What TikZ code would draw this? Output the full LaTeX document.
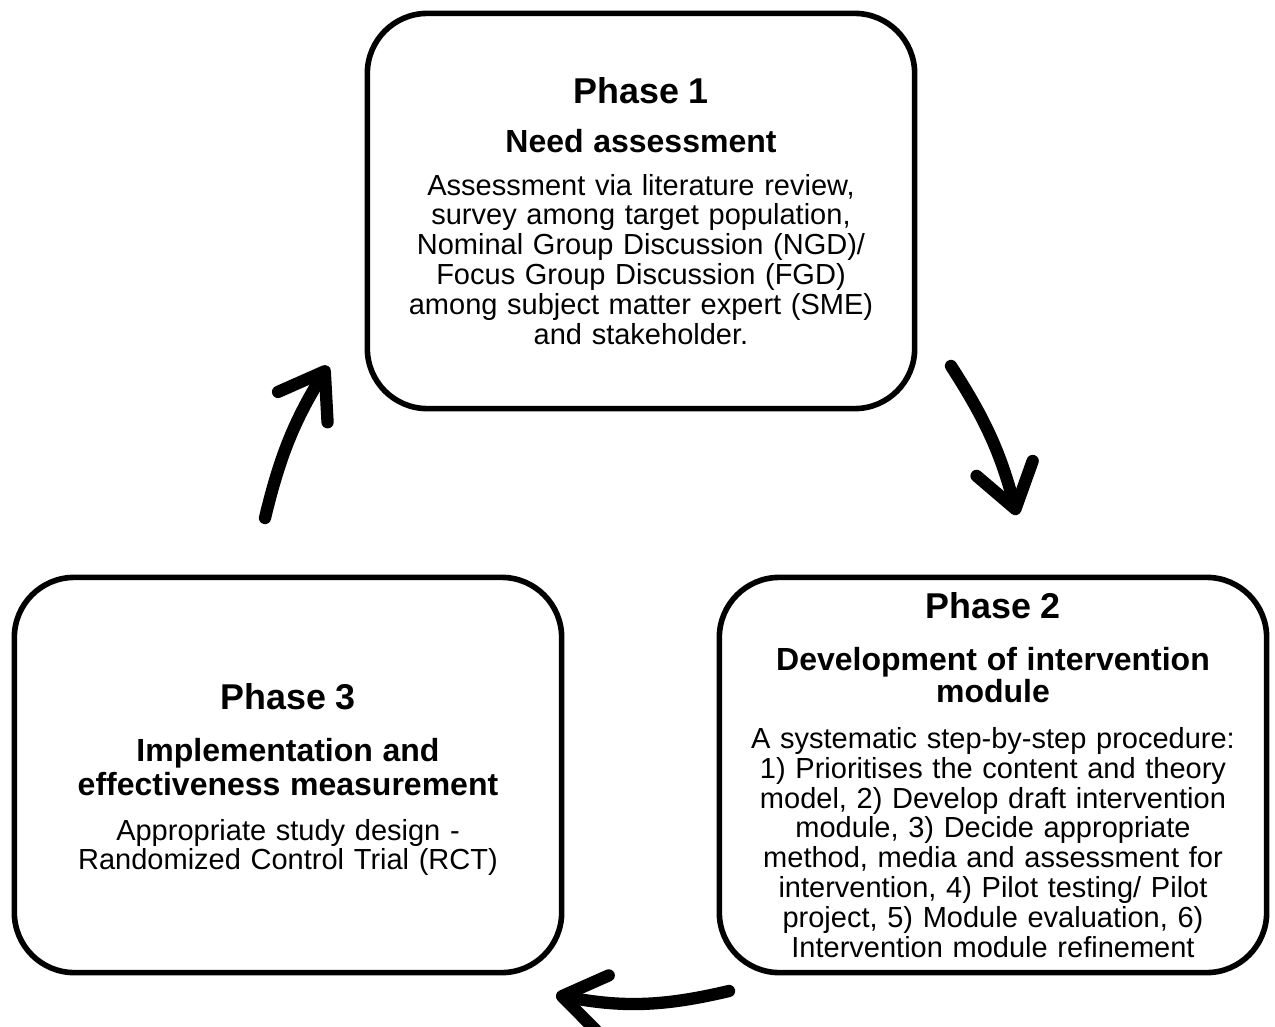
\documentclass[tikz,border=0pt]{standalone}
\usepackage{fontspec}
\setmainfont{Liberation Sans}
\usetikzlibrary{arrows.meta}

\newcommand{\phasetitle}[1]{{\fontsize{10.2}{12}\selectfont\bfseries #1}}
\newcommand{\phasesub}[1]{{\fontsize{9.1}{9.1}\selectfont\bfseries #1}}

\tikzset{
  phasebox/.style={draw, line width=1.6pt, rounded corners=0.6cm,
    minimum width=5.47cm, minimum height=3.95cm, text width=5.2cm,
    align=center, font=\fontsize{8.25}{8.5}\selectfont},
  cyclearrow/.style={line width=3.5pt, line cap=round,
    -{Straight Barb[round, length=4.2mm, width=5.8mm]}},
}

\begin{document}
\begin{tikzpicture}[x=0.01cm, y=0.01cm]
  \useasboundingbox (0,0) rectangle (1275,-1027);

  \node[phasebox] (phase1) at (641,-211) {%
    \phasetitle{Phase 1}\\[5.4pt]
    \phasesub{Need assessment}\\[3.7pt]
    Assessment via literature review,\\
    survey among target population,\\
    Nominal Group Discussion (NGD)/\\
    Focus Group Discussion (FGD)\\
    among subject matter expert (SME)\\
    and stakeholder.};

  \node[phasebox] (phase2) at (993,-775) {%
    \phasetitle{Phase 2}\\[5.7pt]
    \phasesub{Development of intervention\\[0.6pt] module}\\[4.6pt]
    A systematic step-by-step procedure:\\
    1) Prioritises the content and theory\\
    model, 2) Develop draft intervention\\
    module, 3) Decide appropriate\\
    method, media and assessment for\\
    intervention, 4) Pilot testing/ Pilot\\
    project, 5) Module evaluation, 6)\\
    Intervention module refinement};

  \node[phasebox] (phase3) at (288,-775) {%
    \rule{0pt}{10.2pt}\phasetitle{Phase 3}\\[5.7pt]
    \phasesub{Implementation and\\[0.9pt] effectiveness measurement}\\[4.3pt]
    Appropriate study design -\\
    Randomized Control Trial (RCT)};

  % arrows between the phases
  \coordinate (a12) at (951,-366);
  \coordinate (b12) at (1017,-515);
  \coordinate (a23) at (729,-991);
  \coordinate (b23) at (556,-995);
  \coordinate (a31) at (265,-518);
  \coordinate (b31) at (328,-366);

  \draw[cyclearrow] (a12) to[bend left=9] (b12);
  \draw[cyclearrow] (a23) to[bend left=12] (b23);
  \draw[cyclearrow] (a31) to[bend left=9] (b31);
\end{tikzpicture}
\end{document}
